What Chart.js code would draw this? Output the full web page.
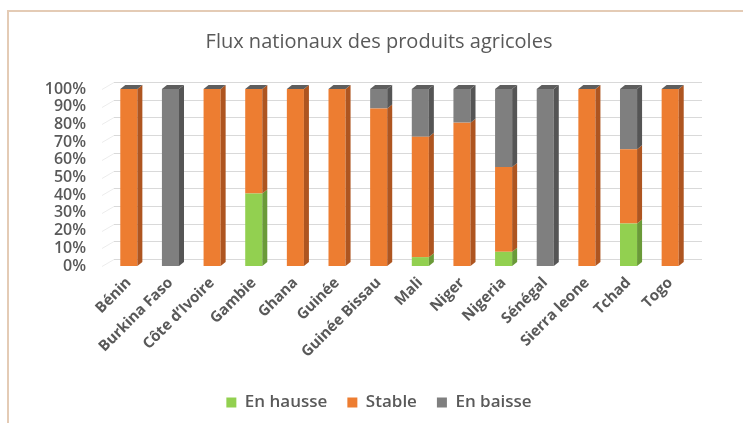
<!DOCTYPE html>
<html>
<head>
<meta charset="utf-8">
<script src="https://cdn.jsdelivr.net/npm/chart.js@4.4.1/dist/chart.umd.min.js"></script>
<style>
  body { margin: 0; background: #fff; }
  #cadre {
    position: absolute; left: 7px; top: 10px; width: 740px; height: 420px;
    border-left: 2px solid #e4cbb5; border-top: 2px solid #e4cbb5;
  }
  #wrap { position: absolute; left: 0; top: 0; width: 743px; height: 423px; }
</style>
</head>
<body>
<div id="cadre"></div>
<div id="wrap"><canvas id="fluxChart" width="743" height="423"></canvas></div>
<script>
// Données
const pays = ['Bénin', 'Burkina Faso', 'Côte d\u2019Ivoire', 'Gambie', 'Ghana', 'Guinée', 'Guinée Bissau',
              'Mali', 'Niger', 'Nigeria', 'Sénégal', 'Sierra leone', 'Tchad', 'Togo'];
const enHausse = [0, 0, 0, 41, 0, 0, 0, 5, 0, 8, 0, 0, 24, 0];
const stable   = [100, 0, 100, 59, 100, 100, 89, 68, 81, 48, 0, 100, 42, 100];
const enBaisse = [0, 100, 0, 0, 0, 0, 11, 27, 19, 44, 100, 0, 34, 0];
const graduations = [0, 10, 20, 30, 40, 50, 60, 70, 80, 90, 100];

const gris = '#595959';
const police = '"Open Sans", Lato, sans-serif';

// Effet 3D : côtés et dessus des barres, grille sur le mur du fond
const profX = 5, profY = 4;
const effet3D = {
    id: 'effet3D',
    beforeDatasetsDraw(chart) {
        const ctx = chart.ctx;
        const y = chart.scales.y;
        const a = chart.chartArea;
        ctx.save();
        ctx.lineWidth = 1;
        graduations.forEach(function(v) {
            const py = Math.round(y.getPixelForValue(v)) + 0.5;
            ctx.strokeStyle = '#ececec';
            ctx.beginPath();
            ctx.moveTo(a.left - 6, py);
            ctx.lineTo(a.left + 6, py - 7);
            ctx.stroke();
            ctx.strokeStyle = '#d9d9d9';
            ctx.beginPath();
            ctx.moveTo(a.left + 6, py - 7);
            ctx.lineTo(a.right + 11, py - 7);
            ctx.stroke();
        });
        ctx.restore();
    },
    afterDatasetsDraw(chart) {
        const ctx = chart.ctx;
        ctx.save();
        chart.data.datasets.forEach(function(ds, i) {
            const meta = chart.getDatasetMeta(i);
            meta.data.forEach(function(bar) {
                if (Math.abs(bar.base - bar.y) < 0.5) return;
                const d = bar.x + bar.width / 2;
                ctx.fillStyle = ds.sideColor;
                ctx.beginPath();
                ctx.moveTo(d, bar.y);
                ctx.lineTo(d + profX, bar.y - profY);
                ctx.lineTo(d + profX, bar.base - profY);
                ctx.lineTo(d, bar.base);
                ctx.closePath();
                ctx.fill();
            });
        });
        // dessus de chaque pile
        const top = chart.getDatasetMeta(0).data;
        top.forEach(function(bar, j) {
            let haut = bar.y;
            chart.data.datasets.forEach(function(ds, i) {
                haut = Math.min(haut, chart.getDatasetMeta(i).data[j].y);
            });
            const g = bar.x - bar.width / 2, d = bar.x + bar.width / 2;
            ctx.fillStyle = '#5e5e5e';
            ctx.beginPath();
            ctx.moveTo(g, haut);
            ctx.lineTo(g + profX, haut - profY);
            ctx.lineTo(d + profX, haut - profY);
            ctx.lineTo(d, haut);
            ctx.closePath();
            ctx.fill();
        });
        ctx.restore();
    }
};

const ctx = document.getElementById('fluxChart').getContext('2d');
const fluxChart = new Chart(ctx, {
    type: 'bar',
    data: {
        labels: pays,
        datasets: [
            { label: 'En hausse', data: enHausse, backgroundColor: '#92d050', sideColor: '#6a9a38' },
            { label: 'Stable', data: stable, backgroundColor: '#ed7d31', sideColor: '#ae5520' },
            { label: 'En baisse', data: enBaisse, backgroundColor: '#7f7f7f', sideColor: '#555555' }
        ]
    },
    options: {
        responsive: false,
        animation: false,
        events: [],
        barPercentage: 0.41,
        categoryPercentage: 1,
        layout: { padding: { left: 15, right: 0, top: 0, bottom: 2 } },
        plugins: {
            title: {
                display: true,
                text: 'Flux nationaux des produits agricoles',
                color: gris,
                font: { family: police, size: 20, weight: 'normal' },
                padding: { top: 30, bottom: 35 }
            },
            legend: {
                position: 'bottom',
                labels: {
                    color: gris,
                    font: { family: police, size: 17, weight: '600' },
                    boxWidth: 10,
                    boxHeight: 10,
                    padding: 20
                }
            },
            tooltip: { enabled: false }
        },
        scales: {
            x: {
                stacked: true,
                grid: { display: false },
                border: { display: false },
                ticks: {
                    color: gris,
                    font: { family: police, size: 15, weight: 'bold' },
                    maxRotation: 45,
                    minRotation: 45,
                    padding: 0,
                    autoSkip: false
                },
                afterFit(scale) { scale.height = 108; }
            },
            y: {
                stacked: true,
                min: 0,
                max: 100,
                grid: { display: false },
                border: { display: false },
                ticks: {
                    stepSize: 10,
                    autoSkip: false,
                    color: gris,
                    font: { family: police, size: 16, weight: '600' },
                    padding: 14,
                    callback: function(v) { return v + '%'; }
                },
                afterFit(scale) { scale.width = 93; }
            },
            marge: {
                position: 'right',
                min: 0,
                max: 100,
                grid: { display: false },
                border: { display: false },
                ticks: { display: false },
                afterFit(scale) { scale.width = 52; }
            }
        }
    },
    plugins: [effet3D]
});
</script>
</body>
</html>
